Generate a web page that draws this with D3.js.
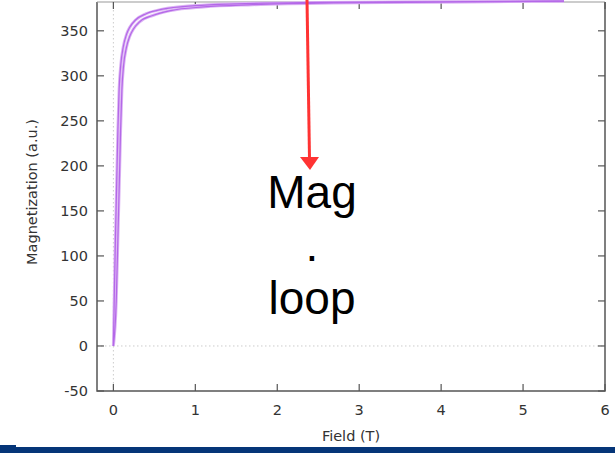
<!DOCTYPE html>
<html>
<head>
<meta charset="utf-8">
<script src="https://cdn.jsdelivr.net/npm/d3@7"></script>
<style>
  body { margin: 0; background: #fff; }
  svg { display: block; }
</style>
</head>
<body>
<div id="chart"></div>
<script>
// magnetization loop, two branches (field in T, magnetization in a.u.)
const fieldUp = [0, 0.01, 0.025, 0.04, 0.055, 0.07, 0.09, 0.12, 0.16, 0.2, 0.27, 0.4, 0.6, 1.0, 1.5, 2.5, 4, 5.5];
const magUp   = [0, 50, 120, 180, 240, 285, 312, 332, 346, 354, 362, 369, 374, 378, 380, 381.5, 382.3, 383];
const fieldDown = [0, 0.035, 0.055, 0.072, 0.088, 0.104, 0.125, 0.158, 0.2, 0.245, 0.32, 0.48, 0.7, 1.1, 1.7, 2.7, 4.2, 5.5];
const magDown   = [0, 50, 120, 180, 240, 285, 312, 331, 344, 352, 360, 367, 372.5, 376.5, 379, 381, 382, 383];

const xTicks = [0, 1, 2, 3, 4, 5, 6];
const yTicks = [-50, 0, 50, 100, 150, 200, 250, 300, 350];
const labelLines = ["Mag", ".", "loop"];

const width = 615, height = 453;
const plotL = 97, plotR = 605, plotT = 2, plotB = 391;

const svg = d3.select("#chart").append("svg")
  .attr("width", width)
  .attr("height", height);

const x = d3.scaleLinear().domain([-0.2, 6]).range([plotL, plotR]);
const y = d3.scaleLinear().domain([-50, 382]).range([plotB, plotT]);

const axisColor = "#555";
const tickFont = "'DejaVu Sans', sans-serif";

// zero lines
svg.append("line")
  .attr("x1", plotL).attr("x2", plotR)
  .attr("y1", y(0)).attr("y2", y(0))
  .attr("stroke", "#ccc").attr("stroke-width", 1).attr("stroke-dasharray", "1.5,2.5");
svg.append("line")
  .attr("x1", x(0)).attr("x2", x(0))
  .attr("y1", plotT).attr("y2", plotB)
  .attr("stroke", "#ccc").attr("stroke-width", 1).attr("stroke-dasharray", "1.5,2.5");

// frame
svg.append("path")
  .attr("d", `M${plotL},${plotT}V${plotB}H${plotR}V${plotT}`)
  .attr("fill", "none").attr("stroke", axisColor).attr("stroke-width", 1.5);
svg.append("line")
  .attr("x1", plotL).attr("x2", plotR).attr("y1", plotT).attr("y2", plotT)
  .attr("stroke", "#999").attr("stroke-width", 1);

// ticks, inward on all sides
const tk = svg.append("g").attr("stroke", axisColor).attr("stroke-width", 1.2);
xTicks.forEach(t => {
  tk.append("line").attr("x1", x(t)).attr("x2", x(t)).attr("y1", plotB).attr("y2", plotB - 7);
  tk.append("line").attr("x1", x(t)).attr("x2", x(t)).attr("y1", plotT).attr("y2", plotT + 7);
});
yTicks.forEach(t => {
  tk.append("line").attr("x1", plotL).attr("x2", plotL + 7).attr("y1", y(t)).attr("y2", y(t));
  tk.append("line").attr("x1", plotR).attr("x2", plotR - 7).attr("y1", y(t)).attr("y2", y(t));
});

svg.append("g").selectAll("text")
  .data(xTicks).enter().append("text")
  .attr("x", d => x(d)).attr("y", 415)
  .attr("text-anchor", "middle")
  .attr("font-family", tickFont).attr("font-size", 14.5).attr("fill", "#333")
  .text(d => d);

svg.append("g").selectAll("text")
  .data(yTicks).enter().append("text")
  .attr("x", 88).attr("y", d => y(d) + 5)
  .attr("text-anchor", "end")
  .attr("font-family", tickFont).attr("font-size", 14.5).attr("fill", "#333")
  .text(d => d);

svg.append("text")
  .attr("x", 351).attr("y", 441)
  .attr("text-anchor", "middle")
  .attr("font-family", tickFont).attr("font-size", 14.5).attr("fill", "#333")
  .text("Field (T)");

svg.append("text")
  .attr("transform", `translate(37,192) rotate(-90)`)
  .attr("text-anchor", "middle")
  .attr("font-family", tickFont).attr("font-size", 14.5).attr("fill", "#333")
  .text("Magnetization (a.u.)");

// loop branches
const line = d3.line().x(d => x(d[0])).y(d => y(d[1])).curve(d3.curveMonotoneX);
const branches = [
  d3.zip(fieldUp, magUp),
  d3.zip(fieldDown, magDown)
];
branches.forEach(b => {
  svg.append("path").datum(b).attr("d", line)
    .attr("fill", "none").attr("stroke", "#dcb4f4").attr("stroke-width", 3);
});
branches.forEach(b => {
  svg.append("path").datum(b).attr("d", line)
    .attr("fill", "none").attr("stroke", "#b468e8").attr("stroke-width", 1.2);
});

// red arrow
svg.append("line")
  .attr("x1", 307).attr("y1", 0).attr("x2", 309.5).attr("y2", 158)
  .attr("stroke", "#ff3333").attr("stroke-width", 3);
svg.append("path")
  .attr("d", "M300,157 L319,157 L310,170 Z")
  .attr("fill", "#ff3333");

// overlay label
svg.append("g").selectAll("text")
  .data(labelLines).enter().append("text")
  .attr("x", 312).attr("y", (d, i) => 208 + i * 53)
  .attr("text-anchor", "middle")
  .attr("font-family", "'Liberation Sans', Arial, sans-serif")
  .attr("font-size", 46).attr("fill", "#000")
  .text(d => d);

// slide footer bar
svg.append("rect").attr("x", 0).attr("y", 447).attr("width", width).attr("height", 6).attr("fill", "#053578");
svg.append("rect").attr("x", 0).attr("y", 445).attr("width", 16).attr("height", 8).attr("fill", "#053578");
</script>
</body>
</html>
